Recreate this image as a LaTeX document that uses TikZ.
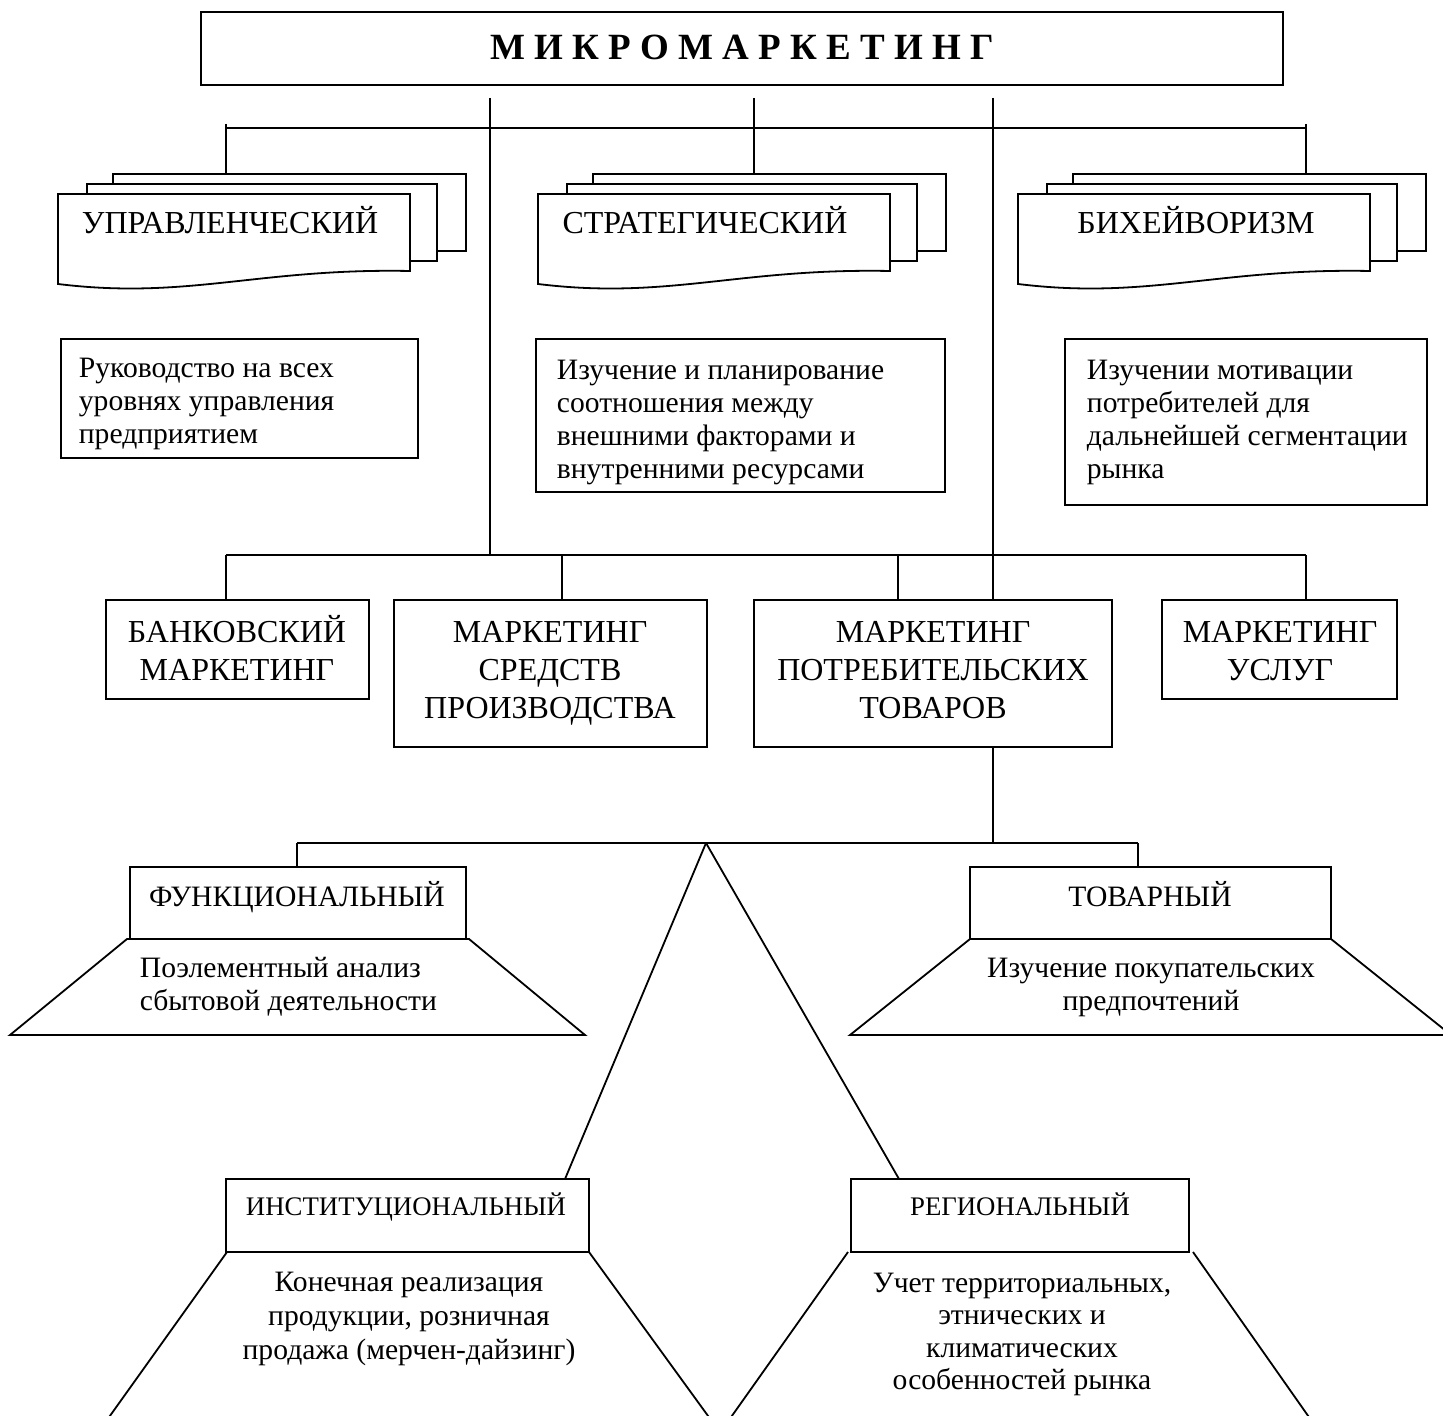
\documentclass[tikz,border=0pt]{standalone}
\usepackage{fontspec}
\setmainfont{Liberation Serif}
\newcommand\mkbox[5]{%
  \pgfmathsetmacro\bxw{(#4-#2)*0.5}%
  \pgfmathsetmacro\bxh{(#5-#3)*0.5}%
  \node[box, minimum width=\bxw pt, minimum height=\bxh pt] (#1) at ({(#2+#4)/2},{(#3+#5)/2}) {};}
\newcommand\multidoc[2]{%
  \draw[sheet] (#1+55,251) -- (#1+55,174) -- (#1+408,174) -- (#1+408,251) -- cycle;
  \draw[sheet] (#1+29,261) -- (#1+29,184) -- (#1+379,184) -- (#1+379,261) -- cycle;
  \draw[sheet] (#1,284) -- (#1,194) -- (#1+352,194) -- (#1+352,271)
     .. controls (#1+200,268) and (#1+130,300) .. (#1,284) -- cycle;
  \coordinate (#2) at (#1+176,174);}
\begin{document}
\begin{tikzpicture}[x=0.5pt,y=-0.5pt,line width=0.9pt,
  box/.style={draw,rectangle,inner sep=0pt,fill=white},
  sheet/.style={draw,fill=white,line join=miter},
  conn/.style={draw},
  big/.style={anchor=base,inner sep=0pt,font=\fontsize{16}{18}\selectfont},
  mid/.style={anchor=base,inner sep=0pt,font=\fontsize{14.8}{17}\selectfont},
  small/.style={anchor=base,inner sep=0pt,font=\fontsize{13.4}{15}\selectfont},
  descl/.style={anchor=base west,inner sep=0pt,font=\fontsize{14.8}{17}\selectfont}]
\useasboundingbox (0,0) rectangle (1443,1416);
\fill[white] (0,0) rectangle (1443,1416);

% title
\mkbox{title}{201}{12}{1283}{85}
\node[anchor=base,inner sep=0pt,font=\fontsize{18.5}{20}\selectfont\bfseries] (titletext) at (742,60) {М И К Р О М А Р К Е Т И Н Г};

% top connectors
\coordinate (tA) at (490,98);
\coordinate (tB) at (754,98);
\coordinate (tC) at (993,98);
\coordinate (busL) at (226,128);
\coordinate (busR) at (1306,128);
\draw[conn] (busL) -- (busR);

% multidocs
\multidoc{58}{mdA}
\multidoc{538}{mdB}
\multidoc{1018}{mdC}
\node[big] (lblA) at (230,234) {УПРАВЛЕНЧЕСКИЙ};
\node[big] (lblB) at (705,234) {СТРАТЕГИЧЕСКИЙ};
\node[big] (lblC) at (1196,234) {БИХЕЙВОРИЗМ};
\draw[conn] (226,124) -- (mdA -| busL);
\draw[conn] (tB) -- (mdB -| tB);
\draw[conn] (1306,124) -- (mdC -| busR);

% descriptions
\mkbox{descA}{61}{339}{418}{458}
\mkbox{descB}{536}{339}{945}{492}
\mkbox{descC}{1065}{339}{1427}{505}
\foreach \t [count=\i] in {Руководство на всех, уровнях управления, предприятием}
  \node[descl] (dA\i) at (78,{378+(\i-1)*33}) {\t};
\foreach \t [count=\i] in {Изучение и планирование, соотношения между, внешними факторами и, внутренними ресурсами}
  \node[descl] (dB\i) at (556,{380+(\i-1)*33}) {\t};
\foreach \t [count=\i] in {Изучении мотивации, потребителей для, дальнейшей сегментации, рынка}
  \node[descl] (dC\i) at (1086,{380+(\i-1)*33}) {\t};

% second bus
\coordinate (bus2L) at (226,555);
\coordinate (bus2R) at (1306,555);
\draw[conn] (bus2L) -- (bus2R);
\draw[conn] (tA) -- (tA |- bus2L);

% row 2 boxes
\mkbox{bank}{106}{600}{369}{699}
\mkbox{sred}{394}{600}{707}{747}
\mkbox{potr}{754}{600}{1112}{747}
\mkbox{usl}{1162}{600}{1397}{699}
\draw[conn] (tC) -- (tC |- potr.north);
\draw[conn] (bus2L) -- (bus2L |- bank.north);
\draw[conn] (562,555) -- (562,600);
\draw[conn] (898,555) -- (898,600);
\draw[conn] (bus2R) -- (bus2R |- usl.north);
\node[big] (bank1) at (237,642) {БАНКОВСКИЙ};
\node[big] (bank2) at (237,680) {МАРКЕТИНГ};
\node[big] (sred1) at (550,642) {МАРКЕТИНГ};
\node[big] (sred2) at (550,680) {СРЕДСТВ};
\node[big] (sred3) at (550,718) {ПРОИЗВОДСТВА};
\node[big] (potr1) at (933,642) {МАРКЕТИНГ};
\node[big] (potr2) at (933,680) {ПОТРЕБИТЕЛЬСКИХ};
\node[big] (potr3) at (933,718) {ТОВАРОВ};
\node[big] (usl1) at (1280,642) {МАРКЕТИНГ};
\node[big] (usl2) at (1280,680) {УСЛУГ};

% third bus
\coordinate (apex) at (706,843);
\coordinate (bus3L) at (297,843);
\coordinate (bus3R) at (1138,843);
\draw[conn] (potr.south -| tC) -- (tC |- apex);
\draw[conn] (bus3L) -- (bus3R);

% functional
\draw[sheet] (127,939) -- (10,1035) -- (585,1035) -- (469,939) -- cycle;
\mkbox{func}{130}{867}{466}{939}
\draw[conn] (bus3L) -- (bus3L |- func.north);
\node[mid] (funcl) at (297,906) {ФУНКЦИОНАЛЬНЫЙ};
\node[descl] (funcd1) at (139,977) {Поэлементный анализ};
\node[descl] (funcd2) at (139,1010) {сбытовой деятельности};

% tovar
\draw[sheet] (970,939) -- (850,1035) -- (1451,1035) -- (1331,939) -- cycle;
\mkbox{tov}{970}{867}{1331}{939}
\draw[conn] (bus3R) -- (bus3R |- tov.north);
\node[mid] (tovl) at (1150,906) {ТОВАРНЫЙ};
\node[mid] (tovd1) at (1151,977) {Изучение покупательских};
\node[mid] (tovd2) at (1151,1010) {предпочтений};

% institutional
\draw[conn] (227,1252) -- (107,1420);
\draw[conn] (589,1252) -- (711,1420);
\mkbox{inst}{226}{1179}{589}{1252}
\draw[conn] (apex) -- (565,1179);
\node[small] (instl) at (406,1215) {ИНСТИТУЦИОНАЛЬНЫЙ};
\foreach \t [count=\i] in {Конечная реализация, {продукции, розничная}, продажа (мерчен-дайзинг)}
  \node[mid] (instd\i) at (409,{1291+(\i-1)*34}) {\t};

% regional
\draw[conn] (848,1252) -- (729,1420);
\draw[conn] (1193,1252) -- (1311,1420);
\mkbox{reg}{851}{1179}{1189}{1252}
\draw[conn] (apex) -- (899,1179);
\node[small] (regl) at (1020,1215) {РЕГИОНАЛЬНЫЙ};
\foreach \t [count=\i] in {{Учет территориальных,}, этнических и, климатических, особенностей рынка}
  \node[mid] (regd\i) at (1022,{1292+(\i-1)*32.5}) {\t};
\end{tikzpicture}
\end{document}
